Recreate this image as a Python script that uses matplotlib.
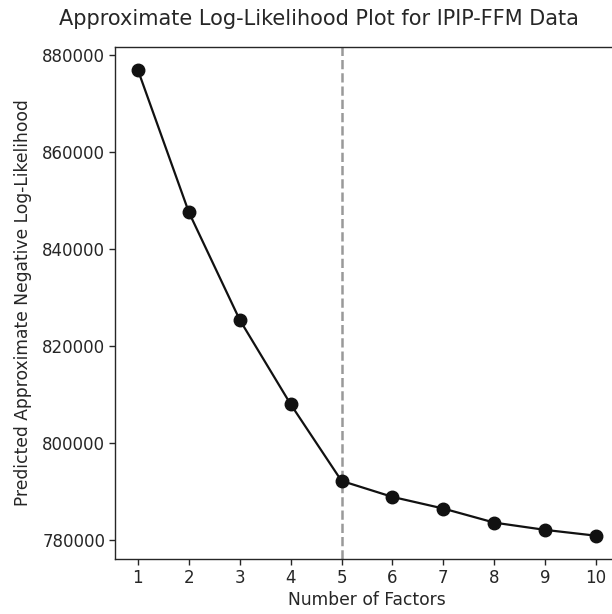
import matplotlib
matplotlib.use("Agg")
import matplotlib.pyplot as plt

factors = [1, 2, 3, 4, 5, 6, 7, 8, 9, 10]
neg_loglik = [876900, 847600, 825400, 808000, 792200, 788900, 786500, 783600, 782100, 780900]
chosen_k = 5

plt.rcParams['font.family'] = ['DejaVu Sans']
txt = '#262626'
fig = plt.figure(figsize=(6.12, 6.14), dpi=100)
ax = fig.add_axes([115/612, 1-559/614, 504/612, (559-46.7)/614])
ax.plot(factors, neg_loglik, color='#111111', lw=1.6, marker='o', ms=9, zorder=3)
ax.axvline(chosen_k, color='#999999', ls='--', lw=1.8, zorder=2)
ax.set_xticks(factors)
ax.set_yticks([780000, 800000, 820000, 840000, 860000, 880000])
ax.ticklabel_format(axis='y', style='plain', useOffset=False)
ax.tick_params(labelsize=12, length=4, width=1, pad=3, direction='out', color=txt, labelcolor=txt)
for s in ax.spines.values():
    s.set_color(txt)
    s.set_linewidth(1.0)
ax.set_xlabel('Number of Factors', fontsize=12.3, labelpad=3, color=txt)
ax.set_ylabel('Predicted Approximate Negative Log-Likelihood', fontsize=12.3, labelpad=7, color=txt)
fig.text(319/612, 1-19/614, 'Approximate Log-Likelihood Plot for IPIP-FFM Data', ha='center', va='center', fontsize=15, color=txt)
fig.savefig('out.png', dpi=100)
